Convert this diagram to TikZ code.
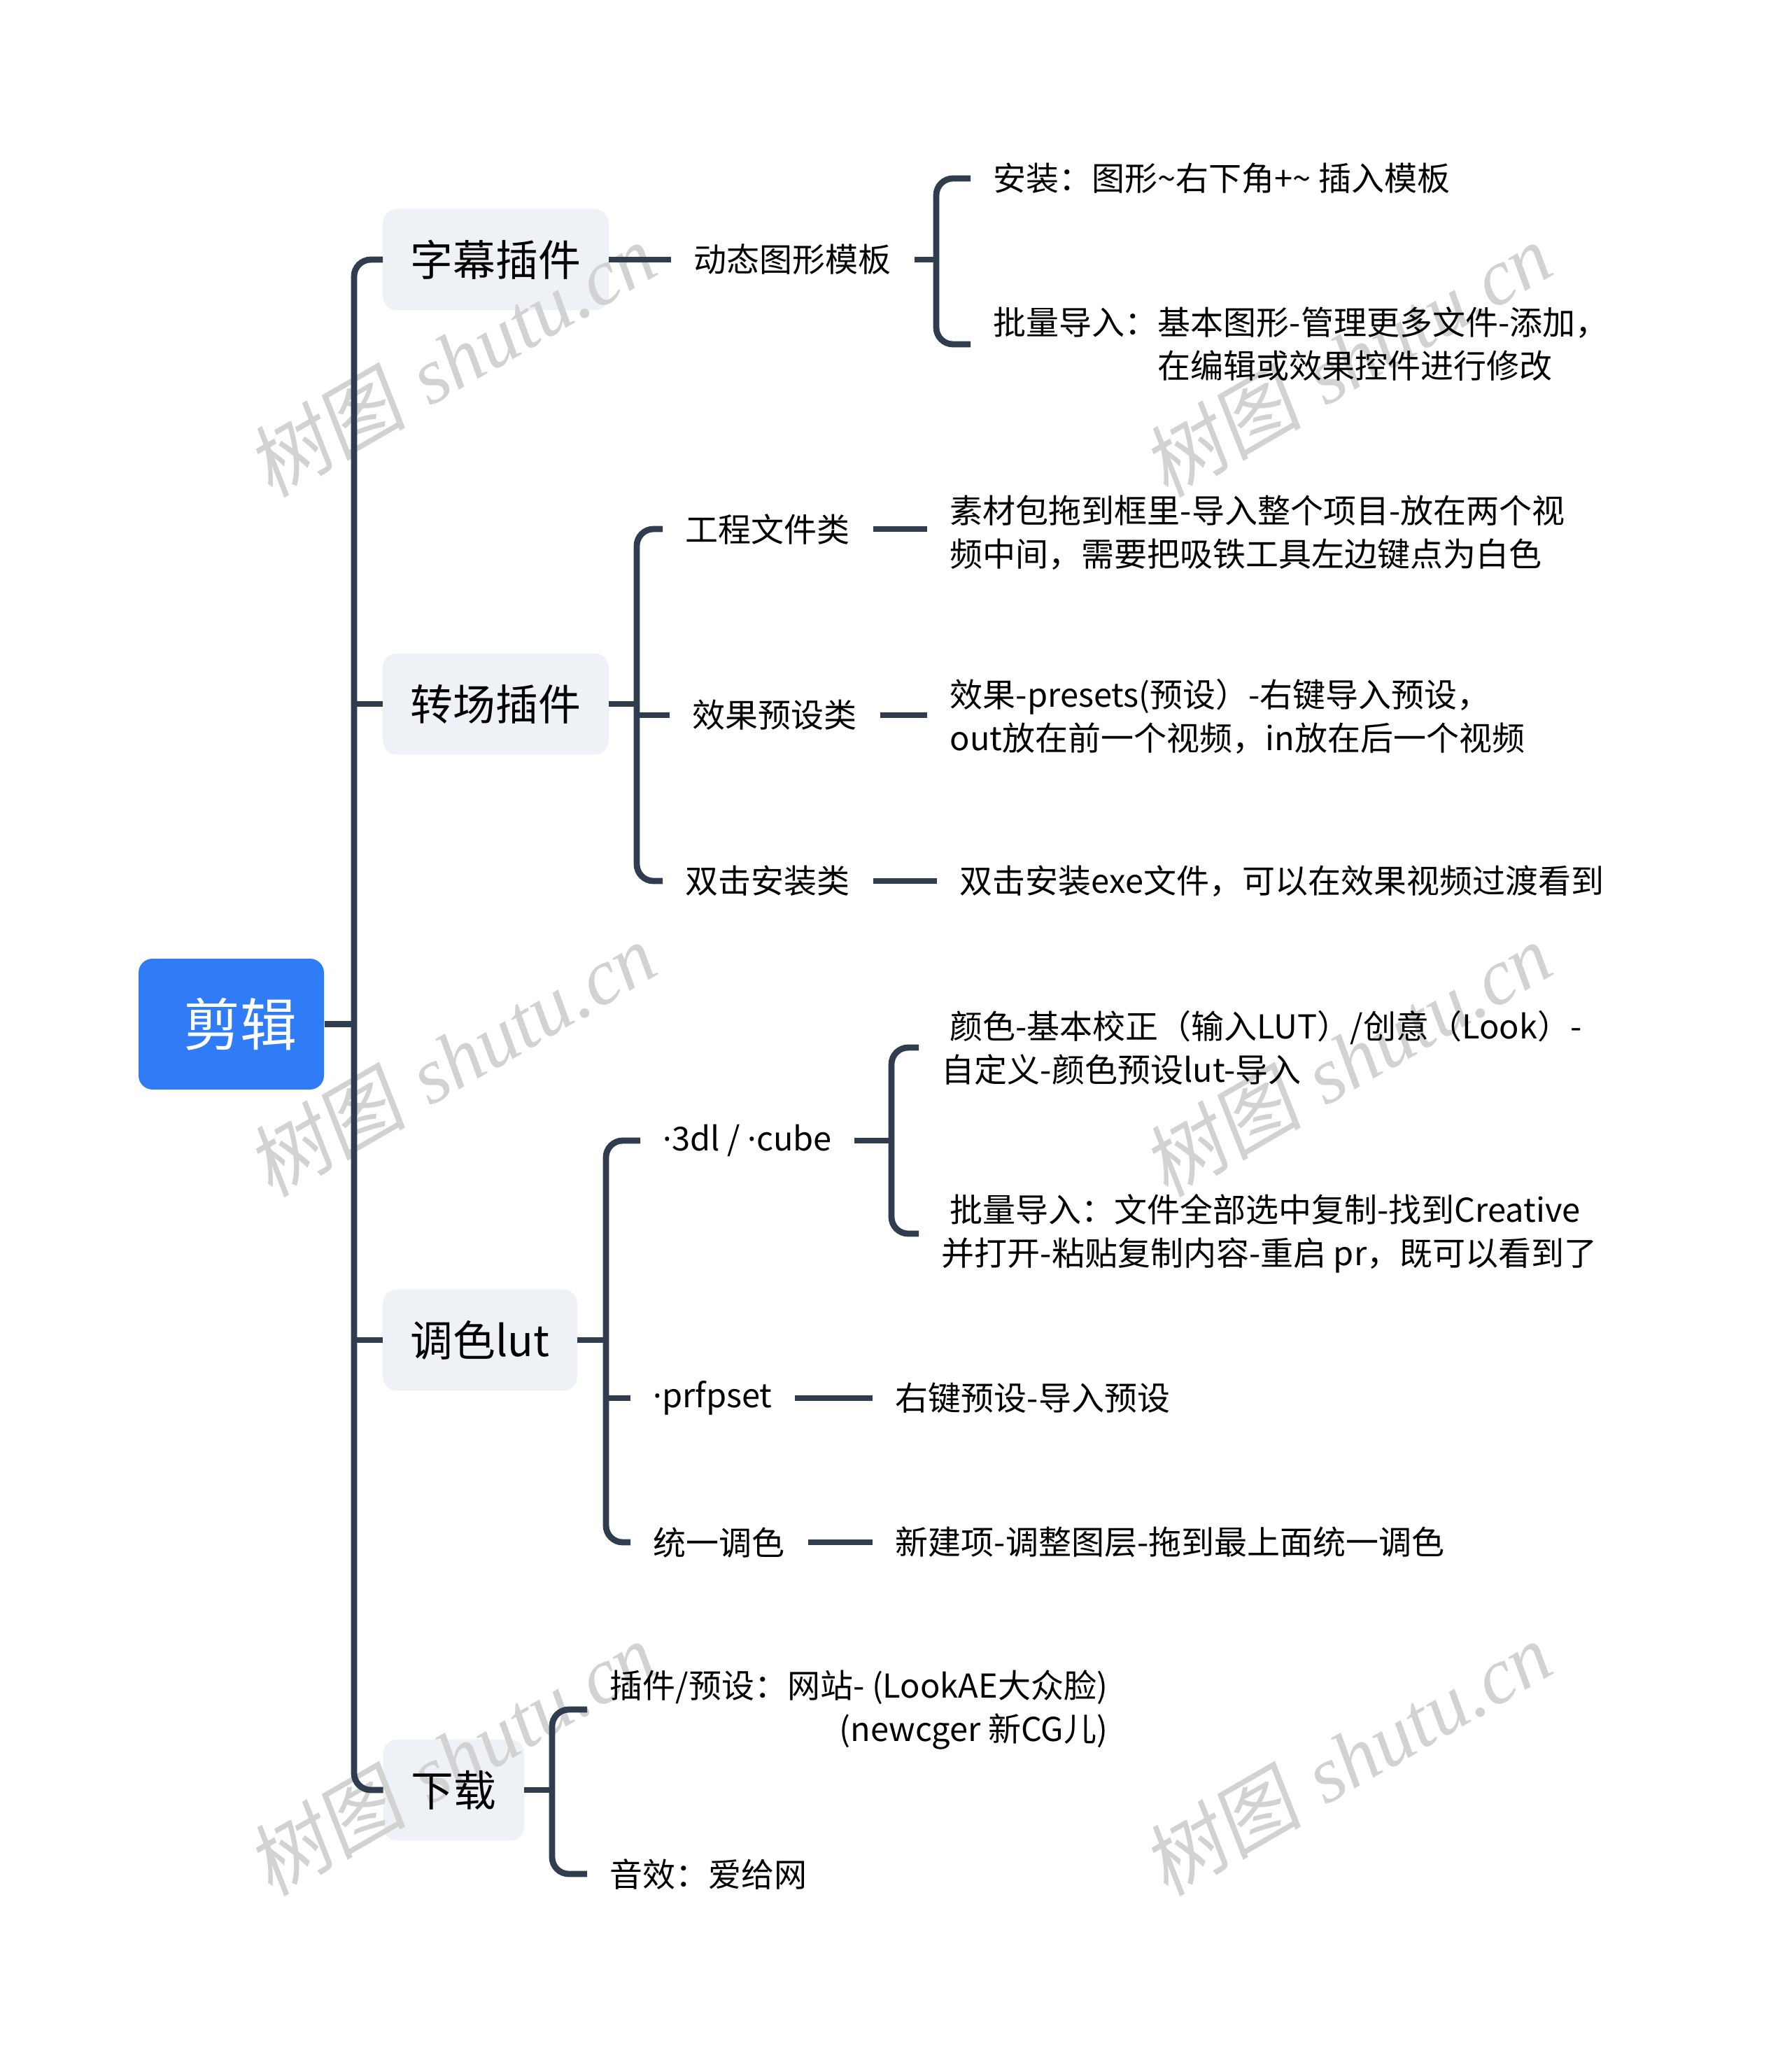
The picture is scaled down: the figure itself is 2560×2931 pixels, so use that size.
\documentclass[tikz,border=0pt]{standalone}
\usepackage{fontspec}
\newfontfamily\cjk{Noto Sans CJK SC}
\newfontfamily\lat{Noto Sans}
\newfontfamily\wmcjk[FakeSlant=0.15]{Noto Sans CJK SC}
\newfontfamily\wmserif{Liberation Serif}
\usetikzlibrary{calc}
\definecolor{linec}{HTML}{2F3D4F}
\definecolor{rootc}{HTML}{2F7CF6}
\definecolor{boxc}{HTML}{EEF1F5}
\definecolor{wmc}{HTML}{D2D2D2}
\pgfdeclarelayer{bg}
\pgfdeclarelayer{wm}
\pgfsetlayers{bg,wm,main}
\newcommand\mdot{{\lat ·}}
\begin{document}
\begin{tikzpicture}[x=0.25pt,y=-0.25pt,
  conn/.style={draw=linec,line width=2.2pt},
  rc/.style={conn,rounded corners=6pt},
  rootnode/.style={fill=rootc,rounded corners=5pt,text=white,font=\cjk\fontsize{20.25}{24}\selectfont,minimum width=66.25pt,minimum height=46.75pt,inner sep=0pt},
  lone/.style={font=\cjk\fontsize{15.2}{18}\selectfont,text=black,minimum height=35.75pt,inner sep=0pt},
  leaf/.style={font=\cjk\fontsize{11.75}{15.5}\selectfont,text=black,anchor=west,inner xsep=8pt,inner ysep=0pt,align=left},
  wmark/.style={text=wmc,rotate=30,inner sep=0pt,font=\fontsize{28.5}{30}\selectfont}
]
\useasboundingbox (0,0) rectangle (2560,2931);
\begin{pgfonlayer}{bg}
\fill[white] (0,0) rectangle (2560,2931);
\end{pgfonlayer}

% root and level-1 nodes
\node[rootnode] (root) at (330.5,1463.5) {\hspace*{6.5pt}剪辑};
\node[lone, minimum width=80.25pt] (zimu) at (708.5,371) {字幕插件};
\node[lone, minimum width=80.25pt] (zhuan) at (708.5,1006) {转场插件};
\node[lone, minimum width=69pt] (lut) at (686,1915) {调色lut};
\node[lone, minimum width=50pt] (xiazai) at (648.5,2558) {下载};

\begin{pgfonlayer}{bg}
\foreach \n in {zimu,zhuan,lut,xiazai}
  \fill[boxc, rounded corners=5pt] (\n.south west) rectangle (\n.north east);
\end{pgfonlayer}

% watermarks
\begin{pgfonlayer}{wm}
\foreach \wx/\wy in {645/514,1925/514,645/1514,1925/1514,645/2513,1925/2513}
  \node[wmark] at (\wx,\wy) {{\wmcjk 树图} {\wmserif\itshape shutu.cn}};
\end{pgfonlayer}

% group A
\node[leaf] (dt) at (959,371) {动态图形模板};
\node[leaf] (a1) at (1387,255) {安装：图形\textasciitilde 右下角+\textasciitilde\ 插入模板};
\node[leaf] (a2) at (1387,492) {批量导入：基本图形-管理更多文件-添加，\\\hspace*{5em}在编辑或效果控件进行修改};

% group B
\node[leaf] (gc) at (947,756) {工程文件类};
\node[leaf] (sc) at (1325,761) {素材包拖到框里-导入整个项目-放在两个视\\频中间，需要把吸铁工具左边键点为白色};
\node[leaf] (xg) at (957,1022) {效果预设类};
\node[leaf] (xs) at (1325,1024) {效果-presets(预设）-右键导入预设，\\out放在前一个视频，in放在后一个视频};
\node[leaf] (sj) at (947,1259) {双击安装类};
\node[leaf] (sa) at (1339,1259) {双击安装exe文件，可以在效果视频过渡看到};

% group C
\node[leaf] (cube) at (915,1630) {\mdot 3dl / \mdot cube};
\node[leaf] (ys1) at (1313,1497) {\hspace*{0.25em}颜色-基本校正（输入LUT）/创意（Look）-\\自定义-颜色预设lut-导入};
\node[leaf] (ys2) at (1313,1763) {\hspace*{0.25em}批量导入：文件全部选中复制-找到Creative\\并打开-粘贴复制内容-重启 pr，既可以看到了};
\node[leaf] (prf) at (901,1998) {\mdot prfpset};
\node[leaf] (yj) at (1247,1998) {右键预设-导入预设};
\node[leaf] (ty) at (901,2204) {统一调色};
\node[leaf] (xj) at (1247,2204) {新建项-调整图层-拖到最上面统一调色};

% group E
\node[leaf, align=right] (cj) at (839,2443) {插件/预设：网站- (LookAE大众脸)\\(newcger 新CG儿)};
\node[leaf] (yx) at (839,2678) {音效：爱给网};

% trunk
\coordinate (T) at (506,1463.5);
\draw[conn] (root.east) -- (T);
\draw[rc] (zimu.west) -| (T) |- (xiazai.west);
\draw[conn] (T |- zhuan.west) -- (zhuan.west);
\draw[conn] (T |- lut.west) -- (lut.west);

% group A connectors
\coordinate (A) at (1338,371);
\draw[conn] (zimu.east) -- (dt.west);
\draw[conn] (dt.east) -- (A);
\draw[rc] (a1.west) -| (A) |- (a2.west);

% group B connectors
\coordinate (B) at (910,1006);
\draw[conn] (zhuan.east) -- (B);
\draw[rc] (gc.west) -| (B) |- (sj.west);
\draw[conn] (B |- xg.west) -- (xg.west);
\draw[conn] (gc.east) -- (gc.east -| sc.west);
\draw[conn] (xg.east) -- (xg.east -| xs.west);
\draw[conn] (sj.east) -- (sa.west);

% group C connectors
\coordinate (C) at (866,1915);
\draw[conn] (lut.east) -- (C);
\draw[rc] (cube.west) -| (C) |- (ty.west);
\draw[conn] (C |- prf.west) -- (prf.west);
\coordinate (D) at (1274,1630);
\draw[conn] (cube.east) -- (D);
\draw[rc] (ys1.west) -| (D) |- (ys2.west);
\draw[conn] (prf.east) -- (yj.west);
\draw[conn] (ty.east) -- (xj.west);

% group E connectors
\coordinate (E) at (789,2558);
\draw[conn] (xiazai.east) -- (E);
\draw[rc] (cj.west) -| (E) |- (yx.west);
\end{tikzpicture}
\end{document}
